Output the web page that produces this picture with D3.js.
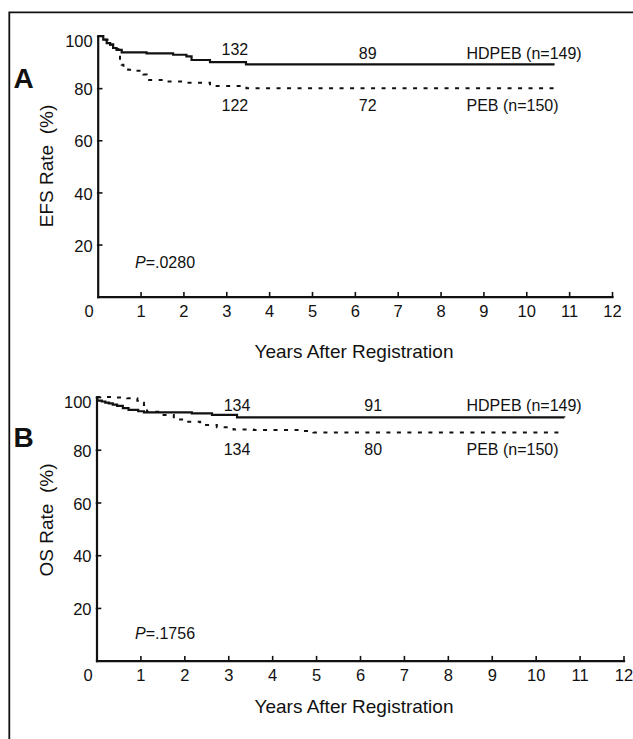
<!DOCTYPE html>
<html>
<head>
<meta charset="utf-8">
<script src="https://cdn.jsdelivr.net/npm/d3@7"></script>
<style>
  body { margin: 0; background: #fff; }
  svg { display: block; }
  text { font-family: "Liberation Sans", Arial, Helvetica, sans-serif; fill: #111; }
</style>
</head>
<body>
<div id="chart"></div>
<script>
// Kaplan-Meier estimates: [years, rate %]
const efsHdpeb = [[0,100],[0.05,100],[0.13,98.6],[0.21,97.3],[0.29,96.7],[0.36,95.4],[0.44,94.7],[0.56,93.7],
  [1.14,93.3],[1.76,92.8],[2.07,92.2],[2.19,90.8],[2.62,90.0],[3.46,89.1],[10.66,89.1]];
const efsPeb = [[0,100],[0.13,98.6],[0.3,96.7],[0.44,95.0],[0.48,92.8],[0.52,90.9],[0.56,89.0],[0.6,87.7],
  [0.71,87.1],[0.83,86.7],[1.06,85.2],[1.14,83.1],[1.61,82.5],[2.07,82.1],[2.62,80.8],[3.47,80.0],[10.7,80.0]];
const osHdpeb = [[0,100],[0.02,98.6],[0.12,98.3],[0.2,97.9],[0.28,97.6],[0.37,97.1],[0.47,96.6],[0.6,95.8],
  [0.73,95.1],[0.95,94.6],[1.08,94.2],[2.17,93.8],[2.63,93.2],[3.2,92.3],[10.65,92.2]];
const osPeb = [[0,100],[0.45,99.8],[0.7,99.5],[0.93,98.6],[1.02,97.8],[1.08,97.0],[1.12,95.6],[1.15,94.4],
  [1.45,93.2],[1.76,91.5],[2.06,90.6],[2.36,89.4],[2.74,88.5],[3.12,87.7],[3.58,87.5],[4.64,87.1],[4.94,86.5],[10.62,86.5]];

const xTicks = [0,1,2,3,4,5,6,7,8,9,10,11,12];
const yTicks = [20,40,60,80,100];
const groupNames = ["HDPEB (n=149)", "PEB (n=150)"];
const efsAtRisk = [["132","89"], ["122","72"]];   // top row HDPEB, bottom row PEB, at ~3 and ~6 years
const osAtRisk = [["134","91"], ["134","80"]];
const riskYears = [3.2, 6.3];

const W = 633, H = 739;
const svg = d3.select('#chart').append('svg')
  .attr('width', W).attr('height', H);

// outer frame (only top and left edges show in the picture)
svg.append('path')
  .attr('d', 'M633,12.3H9.3V739')
  .attr('fill', 'none').attr('stroke', '#111').attr('stroke-width', 1.8);

function drawPanel(p) {
  const x = d3.scaleLinear().domain([0, 12]).range([p.left, p.right]);
  const y = d3.scaleLinear().domain([0, 100]).range([p.bottom, p.top]);
  const g = svg.append('g');

  // x axis
  const xa = g.append('g')
    .attr('transform', `translate(0,${p.bottom})`)
    .call(d3.axisBottom(x).tickValues(xTicks).tickSizeInner(-4).tickSizeOuter(0).tickPadding(9));
  xa.selectAll('text').style('font-size', '16.5px').attr('fill', '#111');
  xa.selectAll('.tick').filter(d => d === 0).select('line').remove();
  xa.selectAll('.tick').filter(d => d === 0).select('text').attr('dx', -9);

  // y axis
  const ya = g.append('g')
    .attr('transform', `translate(${p.left},0)`)
    .call(d3.axisLeft(y).tickValues(yTicks).tickSizeInner(-4).tickSizeOuter(0).tickPadding(5));
  ya.selectAll('text').style('font-size', '16.5px').attr('fill', '#111')
    .attr('dy', d => d === 100 ? '0.62em' : '0.4em');

  g.selectAll('.domain').attr('stroke', '#111').attr('stroke-width', 2.2);
  g.selectAll('.tick line').attr('stroke', '#111').attr('stroke-width', 1.6);
  g.selectAll('.domain, .tick line').attr('stroke-linecap', 'square');

  // curves
  const line = d3.line().x(d => x(d[0])).y(d => y(d[1])).curve(d3.curveStepAfter);
  g.append('path').datum(p.solid)
    .attr('d', line).attr('fill', 'none').attr('stroke', '#111').attr('stroke-width', 2.2);
  g.append('path').datum(p.dashed)
    .attr('d', line).attr('fill', 'none').attr('stroke', '#111').attr('stroke-width', 2)
    .attr('stroke-dasharray', '4,6.5');

  // numbers at risk
  p.atRisk.forEach((row, i) => {
    row.forEach((lab, j) => {
      g.append('text')
        .attr('x', x(riskYears[j]))
        .attr('y', i === 0 ? p.riskTop[j] : p.riskBottom)
        .attr('text-anchor', 'middle')
        .style('font-size', '16px')
        .text(lab);
    });
    g.append('text')
      .attr('x', 466.5)
      .attr('y', i === 0 ? p.riskTop[1] : p.riskBottom)
      .style('font-size', '16px')
      .text(groupNames[i]);
  });

  // P value
  const pt = g.append('text').attr('x', 135).attr('y', p.pY).style('font-size', '16px');
  pt.append('tspan').style('font-style', 'italic').text('P');
  pt.append('tspan').text(p.pText);

  // panel letter
  g.append('text')
    .attr('x', 13.5).attr('y', p.letterY)
    .style('font-size', '28px').style('font-weight', 'bold')
    .text(p.letter);

  // axis titles
  g.append('text')
    .attr('x', 354).attr('y', p.xTitleY)
    .attr('text-anchor', 'middle')
    .style('font-size', '19px')
    .text('Years After Registration');
  g.append('text')
    .attr('transform', `translate(53,${p.yTitleY}) rotate(-90)`)
    .attr('text-anchor', 'middle')
    .style('font-size', '19px')
    .style('white-space', 'pre')
    .text(p.yTitle);
}

drawPanel({
  left: 97.7, right: 612, top: 36, bottom: 296.7,
  solid: efsHdpeb, dashed: efsPeb, atRisk: efsAtRisk,
  riskTop: [55, 59], riskBottom: 111,
  pY: 268, pText: '=.0280', letter: 'A', letterY: 88.3,
  xTitleY: 358, yTitle: 'EFS Rate  (%)', yTitleY: 166
});

drawPanel({
  left: 96.5, right: 623.5, top: 397, bottom: 660.7,
  solid: osHdpeb, dashed: osPeb, atRisk: osAtRisk,
  riskTop: [410.7, 410.7], riskBottom: 455,
  pY: 639, pText: '=.1756', letter: 'B', letterY: 446.5,
  xTitleY: 713, yTitle: 'OS Rate  (%)', yTitleY: 520
});
</script>
</body>
</html>
